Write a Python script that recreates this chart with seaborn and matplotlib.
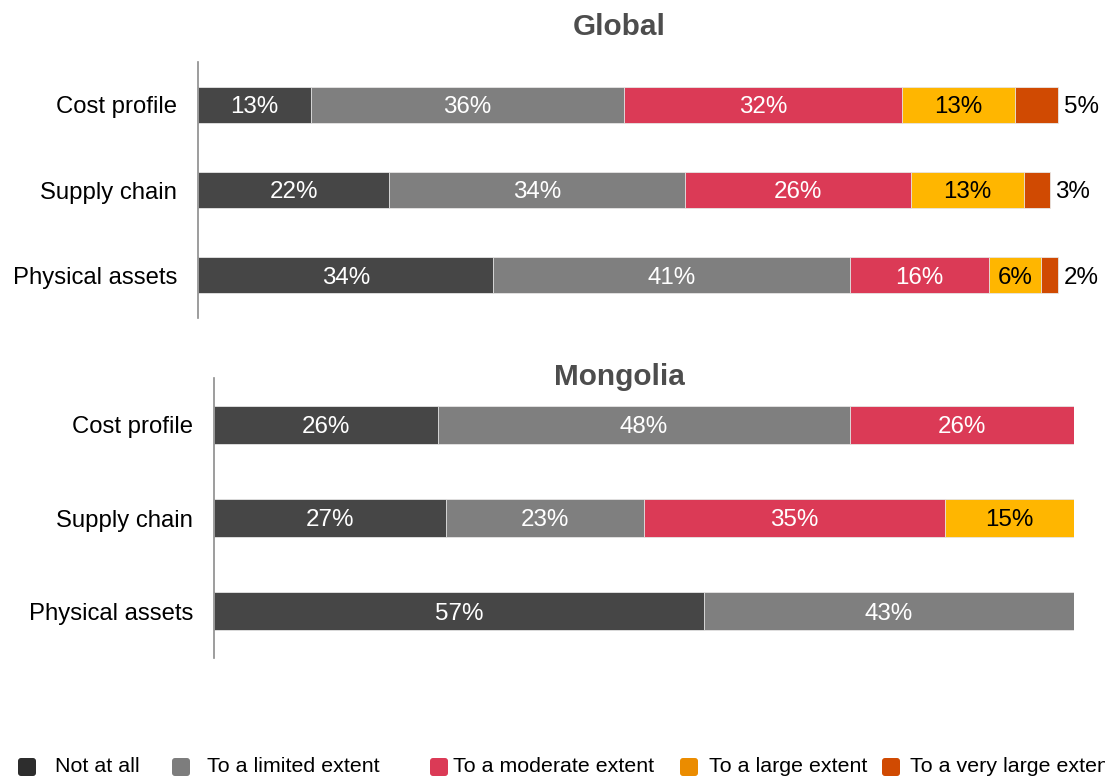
import matplotlib
matplotlib.use("Agg")
import matplotlib.pyplot as plt
from matplotlib.patches import FancyBboxPatch
import numpy as np
import pandas as pd
import seaborn as sns

sns.set_theme(style="white")
plt.rcParams["font.family"] = ["Liberation Sans", "DejaVu Sans"]

# Survey responses (% of respondents)
categories = ["Cost profile", "Supply chain", "Physical assets"]
levels = ["Not at all", "To a limited extent", "To a moderate extent",
          "To a large extent", "To a very large extent"]

global_not_at_all = [13, 22, 34]
global_limited = [36, 34, 41]
global_moderate = [32, 26, 16]
global_large = [13, 13, 6]
global_very_large = [5, 3, 2]

mongolia_not_at_all = [26, 27, 57]
mongolia_limited = [48, 23, 43]
mongolia_moderate = [26, 35, 0]
mongolia_large = [0, 15, 0]
mongolia_very_large = [0, 0, 0]

bar_colors = ["#464646", "#7f7f7f", "#db3a56", "#ffb600", "#d04a02"]
legend_colors = ["#2d2d2d", "#7d7d7d", "#db3a56", "#eb8c00", "#d04a02"]
text_colors = ["white", "white", "white", "black", "black"]
title_color = "#4d4d4d"

LABEL_FS = 17.2
VALUE_FS = 17.4


def stacked_panel(ax, series, outside_last=False, bar_height=0.42):
    data = np.array(series, dtype=float)          # levels x categories
    cum = np.cumsum(data, axis=0)
    # Draw cumulative totals from the outermost level inwards so that
    # each shorter bar sits on top of the longer one.
    for i in range(len(levels) - 1, -1, -1):
        df = pd.DataFrame({"category": categories, "value": cum[i]})
        sns.barplot(data=df, x="value", y="category", orient="h",
                    color=bar_colors[i], saturation=1, width=bar_height,
                    edgecolor="#e8e8e8", linewidth=0.6, ax=ax)
    for i in range(len(levels)):
        for j in range(len(categories)):
            v = data[i, j]
            if v <= 0:
                continue
            start = cum[i, j] - v
            if outside_last and i == len(levels) - 1:
                ax.annotate(f"{v:.0f}%", (cum[i, j], j), xytext=(4, 0),
                            textcoords="offset points", ha="left",
                            va="center_baseline", fontsize=VALUE_FS,
                            color="black")
            else:
                ax.text(start + v / 2, j, f"{v:.0f}%", ha="center",
                        va="center_baseline", fontsize=VALUE_FS,
                        color=text_colors[i])
    ax.set_xlim(0, 100)
    ax.set_ylim(len(categories) - 0.5, -0.5)
    ax.set_xlabel("")
    ax.set_ylabel("")
    ax.set_xticks([])
    ax.tick_params(axis="y", length=0, pad=15, labelsize=LABEL_FS,
                   labelcolor="black")
    for side in ["top", "right", "bottom"]:
        ax.spines[side].set_visible(False)
    ax.spines["left"].set_color("#8c8c8c")
    ax.spines["left"].set_linewidth(1.2)


fig = plt.figure(figsize=(11.05, 7.78), dpi=100)
W, H = 1105, 778

ax_g = fig.add_axes([198 / W, 1 - 318 / H, 869 / W, 256 / H])
stacked_panel(ax_g, [global_not_at_all, global_limited, global_moderate,
                     global_large, global_very_large],
              outside_last=True, bar_height=0.42)

ax_m = fig.add_axes([214 / W, 1 - 658 / H, 860 / W, 280 / H])
stacked_panel(ax_m, [mongolia_not_at_all, mongolia_limited, mongolia_moderate,
                     mongolia_large, mongolia_very_large],
              bar_height=0.41)

fig.text(619 / W, 1 - 27 / H, "Global", ha="center", va="center",
         fontsize=21.4, fontweight="bold", color=title_color)
fig.text(619 / W, 1 - 377 / H, "Mongolia", ha="center", va="center",
         fontsize=21.4, fontweight="bold", color=title_color)

# Legend row along the bottom edge
box_x = [18, 172, 430, 680, 882]
text_x = [55, 207, 453, 709, 910]
y_c = 11
size = 18
for bx, tx, lab, col in zip(box_x, text_x, levels, legend_colors):
    patch = FancyBboxPatch((bx / 100, (y_c - size / 2) / 100),
                           size / 100, size / 100,
                           boxstyle="round,pad=0,rounding_size=0.03",
                           facecolor=col, edgecolor="none",
                           transform=fig.dpi_scale_trans)
    fig.add_artist(patch)
    fig.text(tx / W, y_c / H, lab, ha="left", va="center",
             fontsize=15.4, color="black")

fig.savefig("out.png", dpi=100)
